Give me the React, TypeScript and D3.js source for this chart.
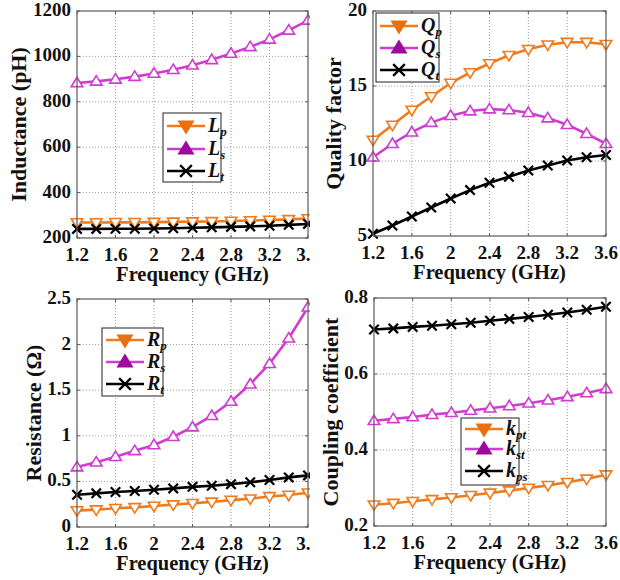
import React from "react";
import * as d3 from "d3";

const freq = [1.2, 1.4, 1.6, 1.8, 2.0, 2.2, 2.4, 2.6, 2.8, 3.0, 3.2, 3.4, 3.6];
const xTicks = [1.2, 1.6, 2.0, 2.4, 2.8, 3.2, 3.6];

const Lp = [268, 268, 269, 269, 270, 271, 272, 273, 275, 277, 279, 282, 286];
const Ls = [883, 890, 899, 911, 925, 941, 961, 985, 1013, 1042, 1075, 1115, 1159];
const Lt = [240, 240, 241, 241, 242, 243, 245, 247, 249, 251, 254, 258, 262];

const Qp = [11.4, 12.4, 13.4, 14.3, 15.2, 15.9, 16.5, 17.05, 17.45, 17.75, 17.92, 17.92, 17.78];
const Qs = [10.25, 11.15, 11.92, 12.56, 13.02, 13.33, 13.46, 13.4, 13.22, 12.86, 12.42, 11.82, 11.15];
const Qt = [5.15, 5.7, 6.3, 6.9, 7.5, 8.06, 8.55, 8.95, 9.37, 9.7, 10.03, 10.25, 10.4];

const Rp = [0.18, 0.19, 0.205, 0.215, 0.23, 0.245, 0.26, 0.275, 0.295, 0.31, 0.335, 0.35, 0.375];
const Rs = [0.657, 0.71, 0.77, 0.835, 0.9, 0.99, 1.095, 1.22, 1.376, 1.566, 1.79, 2.07, 2.41];
const Rt = [0.354, 0.369, 0.383, 0.394, 0.409, 0.423, 0.44, 0.453, 0.47, 0.49, 0.515, 0.544, 0.566];

const kpt = [0.256, 0.26, 0.265, 0.27, 0.275, 0.281, 0.287, 0.293, 0.3, 0.307, 0.315, 0.324, 0.335];
const kst = [0.477, 0.482, 0.487, 0.493, 0.498, 0.504, 0.51, 0.516, 0.523, 0.531, 0.54, 0.55, 0.561];
const kps = [0.717, 0.72, 0.724, 0.727, 0.731, 0.735, 0.74, 0.745, 0.75, 0.756, 0.762, 0.769, 0.777];

const inductTicks = [200, 400, 600, 800, 1000, 1200];
const qTicks = [5, 10, 15, 20];
const rTicks = [0, 0.5, 1, 1.5, 2, 2.5];
const kTicks = [0.2, 0.4, 0.6, 0.8];

const ORANGE = "#F07B1C";
const ORANGE_FILL = "#E8700E";
const MAGENTA = "#D03CD0";
const MAGENTA_FILL = "#9C0A9C";
const BLACK = "#000000";
const FONT = "'Liberation Serif', 'Times New Roman', serif";

type Marker = "down" | "up" | "x";
interface Series {
  values: number[];
  color: string;
  fill: string;
  marker: Marker;
  main: string;
  sub: string;
}

function MarkerShape({ type, cx, cy, color, fill, size }: { type: Marker; cx: number; cy: number; color: string; fill: string; size: number }) {
  const s = size;
  if (type === "x") {
    return (
      <g stroke={color} strokeWidth={2.2}>
        <line x1={cx - s * 0.45} y1={cy - s * 0.45} x2={cx + s * 0.45} y2={cy + s * 0.45} />
        <line x1={cx - s * 0.45} y1={cy + s * 0.45} x2={cx + s * 0.45} y2={cy - s * 0.45} />
      </g>
    );
  }
  const h = s * 0.9;
  const w = s * 0.55;
  const pts =
    type === "up"
      ? [[cx, cy - h * 0.6], [cx - w, cy + h * 0.4], [cx + w, cy + h * 0.4]]
      : [[cx, cy + h * 0.6], [cx - w, cy - h * 0.4], [cx + w, cy - h * 0.4]];
  return <polygon points={pts.map((p) => p.join(",")).join(" ")} fill={fill} stroke={color} strokeWidth={1.6} strokeLinejoin="miter" />;
}

interface PanelProps {
  x0: number; x1: number; y0: number; y1: number;
  yDomain: [number, number];
  yTicks: number[];
  yLabel: string;
  yLabelX: number;
  series: Series[];
  legend: { x: number; y: number; w: number; h: number; rows: number[] };
  cover?: boolean;
}

function Panel(p: PanelProps) {
  const xs = d3.scaleLinear().domain([1.2, 3.6]).range([p.x0, p.x1]);
  const ys = d3.scaleLinear().domain(p.yDomain).range([p.y1, p.y0]);
  const line = d3.line<number>().x((_, i) => xs(freq[i])).y((d) => ys(d));
  const fmt = (v: number) => d3.format("")(+v.toFixed(2));
  const cy = (p.y0 + p.y1) / 2;
  return (
    <g>
      {p.cover && <rect x={310} y={p.y0 - 12} width={310} height={p.y1 - p.y0 + 60} fill="#fff" />}
      <rect x={p.x0} y={p.y0} width={p.x1 - p.x0} height={p.y1 - p.y0} fill="#fff" />
      <g stroke="#9a9a9a" strokeWidth={1} strokeDasharray="1,2">
        {xTicks.slice(1, -1).map((t) => (
          <line key={"gx" + t} x1={xs(t)} x2={xs(t)} y1={p.y0} y2={p.y1} />
        ))}
        {p.yTicks.slice(1, -1).map((t) => (
          <line key={"gy" + t} x1={p.x0} x2={p.x1} y1={ys(t)} y2={ys(t)} />
        ))}
      </g>
      {p.series.map((s, si) => (
        <g key={si}>
          <path d={line(s.values) || ""} fill="none" stroke={s.color} strokeWidth={2.6} />
          {s.values.map((v, i) => (
            <MarkerShape key={i} type={s.marker} cx={xs(freq[i])} cy={ys(v)} color={s.color} fill={s.marker === "x" ? s.color : "#fff"} size={10.5} />
          ))}
        </g>
      ))}
      <rect x={p.x0} y={p.y0} width={p.x1 - p.x0} height={p.y1 - p.y0} fill="none" stroke="#5a5a5a" strokeWidth={1.2} />
      <g stroke="#5a5a5a" strokeWidth={1}>
        {xTicks.map((t) => (
          <g key={"tx" + t}>
            <line x1={xs(t)} x2={xs(t)} y1={p.y1} y2={p.y1 - 3} />
            <line x1={xs(t)} x2={xs(t)} y1={p.y0} y2={p.y0 + 3} />
          </g>
        ))}
        {p.yTicks.map((t) => (
          <g key={"ty" + t}>
            <line x1={p.x0} x2={p.x0 + 3} y1={ys(t)} y2={ys(t)} />
            <line x1={p.x1} x2={p.x1 - 3} y1={ys(t)} y2={ys(t)} />
          </g>
        ))}
      </g>
      <g fontFamily={FONT} fontWeight="bold" fontSize={19} fill="#111">
        {xTicks.map((t) => (
          <text key={"lx" + t} x={xs(t)} y={p.y1 + 23} textAnchor="middle">{fmt(t)}</text>
        ))}
        {p.yTicks.map((t) => (
          <text key={"ly" + t} x={p.x0 - 6} y={ys(t) + 5} textAnchor="end">{fmt(t)}</text>
        ))}
        <text x={(p.x0 + p.x1) / 2} y={p.y1 + 43} textAnchor="middle" fontSize={20.5}>Frequency (GHz)</text>
        <text transform={`translate(${p.yLabelX},${cy}) rotate(-90)`} textAnchor="middle" fontSize={22}>{p.yLabel}</text>
      </g>
      <g>
        <rect x={p.legend.x} y={p.legend.y} width={p.legend.w} height={p.legend.h} fill="#fff" stroke="#222" strokeWidth={1} />
        {p.series.map((s, i) => {
          const ly = p.legend.rows[i];
          const lx0 = p.legend.x + 4;
          const lx1 = lx0 + 38;
          return (
            <g key={"lg" + i}>
              <line x1={lx0} x2={lx1} y1={ly} y2={ly} stroke={s.color} strokeWidth={2.6} />
              <MarkerShape type={s.marker} cx={(lx0 + lx1) / 2} cy={ly} color={s.marker === "x" ? s.color : s.fill} fill={s.fill} size={13} />
              <text x={lx1 + 3} y={ly + 6} fontFamily={FONT} fontWeight="bold" fontStyle="italic" fontSize={20} fill="#111">
                {s.main}
                <tspan fontSize={13} dy={4}>{s.sub}</tspan>
              </text>
            </g>
          );
        })}
      </g>
    </g>
  );
}

export default function App() {
  return (
    <svg width={620} height={580} style={{ position: "absolute", left: 0, top: 0, background: "#fff" }}>
      <rect width={620} height={580} fill="#fff" />
      <Panel
        x0={77} x1={308} y0={11} y1={238}
        yDomain={[200, 1200]} yTicks={inductTicks}
        yLabel="Inductance (pH)" yLabelX={26}
        series={[
          { values: Lp, color: ORANGE, fill: ORANGE_FILL, marker: "down", main: "L", sub: "p" },
          { values: Ls, color: MAGENTA, fill: MAGENTA_FILL, marker: "up", main: "L", sub: "s" },
          { values: Lt, color: BLACK, fill: BLACK, marker: "x", main: "L", sub: "t" },
        ]}
        legend={{ x: 163, y: 113, w: 58, h: 69, rows: [126, 149, 171] }}
      />
      <Panel
        x0={77} x1={308} y0={299} y1={527}
        yDomain={[0, 2.5]} yTicks={rTicks}
        yLabel="Resistance (Ω)" yLabelX={41}
        series={[
          { values: Rp, color: ORANGE, fill: ORANGE_FILL, marker: "down", main: "R", sub: "p" },
          { values: Rs, color: MAGENTA, fill: MAGENTA_FILL, marker: "up", main: "R", sub: "s" },
          { values: Rt, color: BLACK, fill: BLACK, marker: "x", main: "R", sub: "t" },
        ]}
        legend={{ x: 102, y: 328, w: 61, h: 68, rows: [340, 362, 384] }}
      />
      <Panel
        x0={373} x1={606} y0={11} y1={236}
        yDomain={[5, 20]} yTicks={qTicks}
        yLabel="Quality factor" yLabelX={341}
        cover
        series={[
          { values: Qp, color: ORANGE, fill: ORANGE_FILL, marker: "down", main: "Q", sub: "p" },
          { values: Qs, color: MAGENTA, fill: MAGENTA_FILL, marker: "up", main: "Q", sub: "s" },
          { values: Qt, color: BLACK, fill: BLACK, marker: "x", main: "Q", sub: "t" },
        ]}
        legend={{ x: 376, y: 13, w: 63, h: 69, rows: [26, 48, 70] }}
      />
      <Panel
        x0={374} x1={606} y0={298} y1={526}
        yDomain={[0.2, 0.8]} yTicks={kTicks}
        yLabel="Coupling coefficient" yLabelX={338}
        cover
        series={[
          { values: kpt, color: ORANGE, fill: ORANGE_FILL, marker: "down", main: "k", sub: "pt" },
          { values: kst, color: MAGENTA, fill: MAGENTA_FILL, marker: "up", main: "k", sub: "st" },
          { values: kps, color: BLACK, fill: BLACK, marker: "x", main: "k", sub: "ps" },
        ]}
        legend={{ x: 461, y: 418, w: 58, h: 67, rows: [429, 449, 471] }}
      />
    </svg>
  );
}
